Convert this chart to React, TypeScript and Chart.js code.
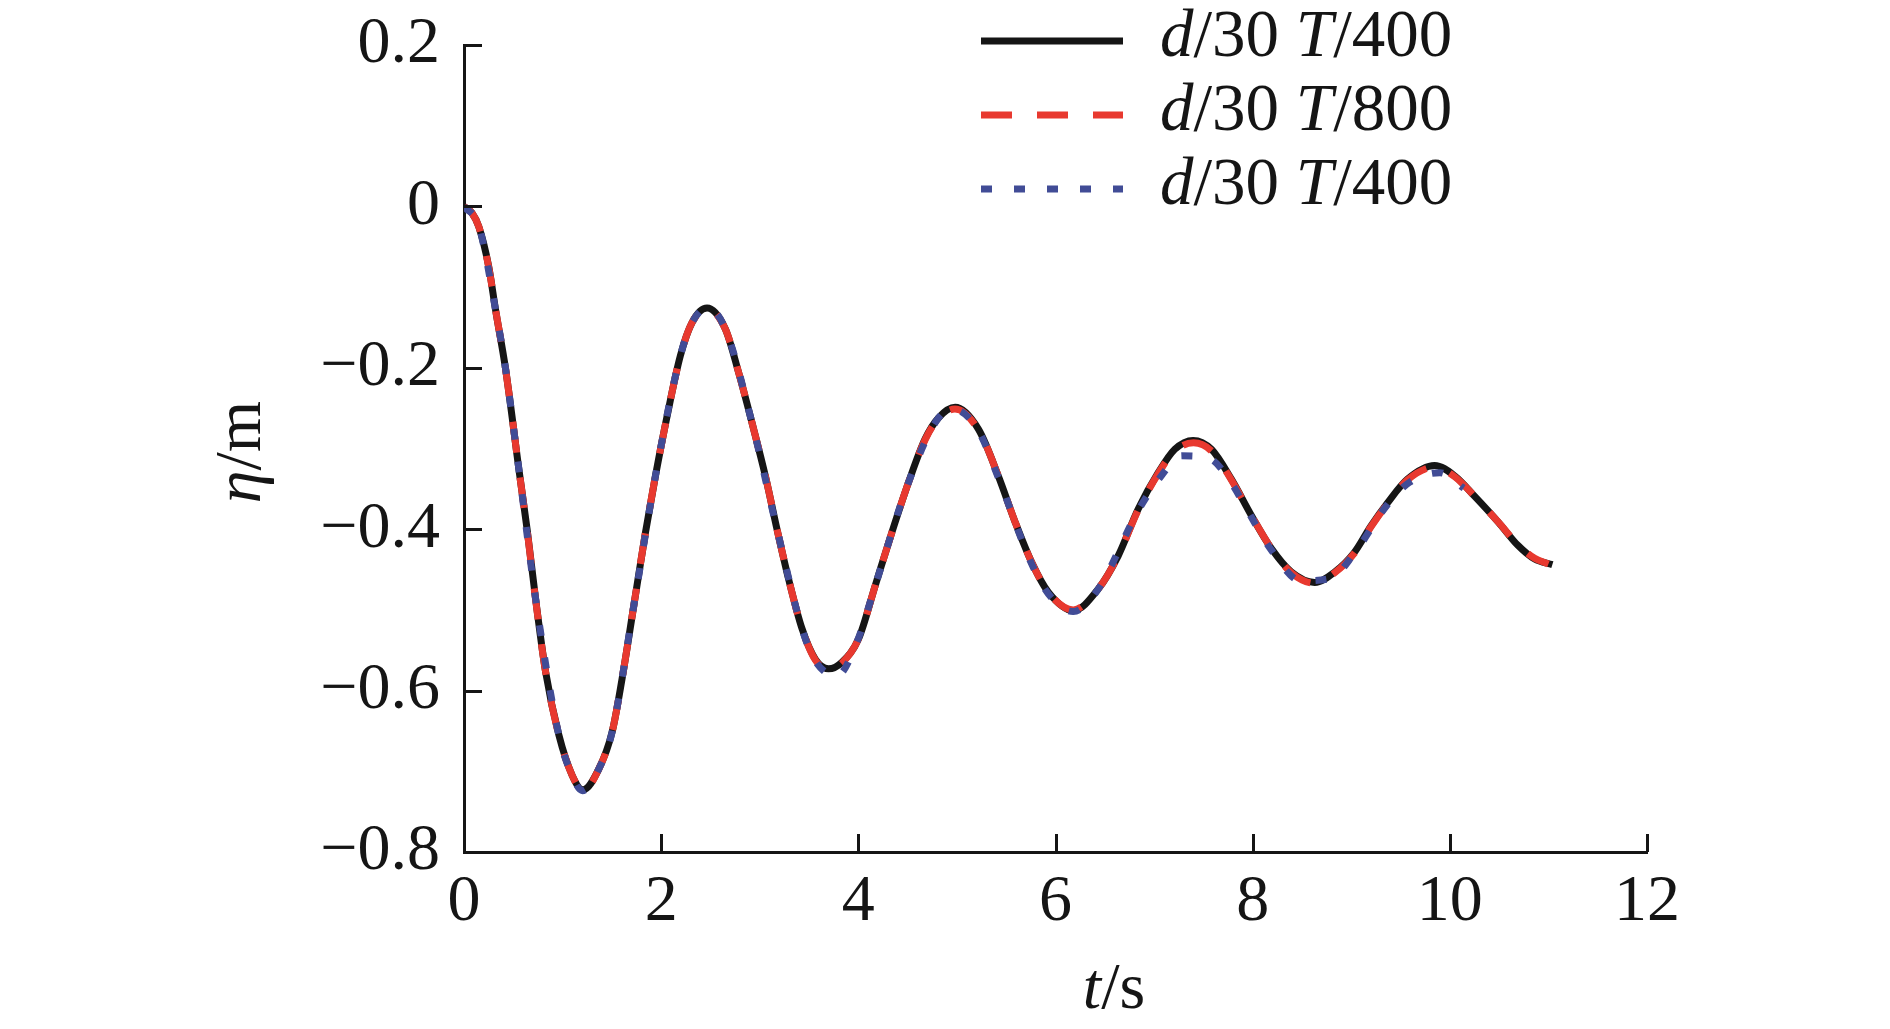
import React, { useEffect, useRef } from 'react';
import { Chart, registerables } from 'chart.js';

Chart.register(...registerables);

// ---------- data ----------
const X_TICKS = [0, 2, 4, 6, 8, 10, 12];
const Y_TICKS = [0.2, 0, -0.2, -0.4, -0.6, -0.8];

const SERIES_NAMES = ['d/30 T/400', 'd/30 T/800', 'd/30 T/400'];
const X_TITLE = 't/s';
const Y_TITLE = 'η/m';

const tBlack = [0, 0.08, 0.15, 0.25, 0.32, 0.42, 0.557, 0.64, 0.726, 0.828, 0.962, 1.097, 1.206, 1.368, 1.503, 1.604, 1.722, 1.841, 1.942, 2.06, 2.195, 2.313, 2.465, 2.651, 2.786, 2.921, 3.057, 3.175, 3.293, 3.428, 3.563, 3.698, 3.833, 4.002, 4.171, 4.34, 4.509, 4.678, 4.813, 4.982, 5.218, 5.42, 5.59, 5.758, 5.927, 6.18, 6.434, 6.636, 6.839, 7.042, 7.21, 7.396, 7.582, 7.784, 7.987, 8.19, 8.392, 8.629, 8.832, 9.03, 9.2, 9.37, 9.57, 9.845, 10.05, 10.25, 10.49, 10.69, 10.86, 11.04];
const etaBlack = [0, -0.008, -0.025, -0.074, -0.128, -0.2, -0.326, -0.4, -0.486, -0.577, -0.655, -0.705, -0.723, -0.697, -0.651, -0.585, -0.495, -0.404, -0.334, -0.26, -0.185, -0.144, -0.126, -0.152, -0.206, -0.268, -0.334, -0.4, -0.462, -0.523, -0.561, -0.573, -0.565, -0.536, -0.47, -0.404, -0.342, -0.288, -0.262, -0.249, -0.276, -0.334, -0.391, -0.441, -0.478, -0.501, -0.474, -0.433, -0.375, -0.33, -0.301, -0.29, -0.301, -0.338, -0.383, -0.424, -0.453, -0.466, -0.453, -0.429, -0.396, -0.367, -0.338, -0.321, -0.334, -0.359, -0.391, -0.42, -0.437, -0.444];

const tRed = [0, 0.08, 0.15, 0.25, 0.32, 0.42, 0.557, 0.64, 0.726, 0.828, 0.962, 1.097, 1.21, 1.368, 1.503, 1.604, 1.722, 1.841, 1.942, 2.06, 2.195, 2.313, 2.47, 2.651, 2.786, 2.921, 3.057, 3.175, 3.293, 3.428, 3.563, 3.70, 3.833, 4.002, 4.171, 4.34, 4.509, 4.678, 4.813, 4.98, 5.218, 5.42, 5.59, 5.758, 5.927, 6.18, 6.434, 6.636, 6.839, 7.042, 7.21, 7.40, 7.582, 7.784, 7.987, 8.19, 8.392, 8.63, 8.832, 9.03, 9.2, 9.37, 9.57, 9.85, 10.05, 10.25, 10.49, 10.69, 10.86, 11.0];
const etaRed = [0, -0.008, -0.025, -0.075, -0.128, -0.2, -0.326, -0.401, -0.487, -0.577, -0.655, -0.705, -0.724, -0.697, -0.651, -0.585, -0.495, -0.404, -0.334, -0.26, -0.185, -0.144, -0.127, -0.152, -0.206, -0.268, -0.334, -0.4, -0.462, -0.523, -0.562, -0.574, -0.566, -0.536, -0.47, -0.404, -0.342, -0.289, -0.263, -0.251, -0.277, -0.334, -0.391, -0.441, -0.478, -0.5, -0.474, -0.433, -0.376, -0.331, -0.303, -0.293, -0.303, -0.339, -0.383, -0.424, -0.454, -0.467, -0.454, -0.43, -0.397, -0.368, -0.339, -0.323, -0.335, -0.359, -0.391, -0.419, -0.436, -0.443];

const tBlue = [0, 0.15, 0.32, 0.42, 0.557, 0.726, 0.962, 1.097, 1.2, 1.368, 1.503, 1.722, 1.942, 2.195, 2.313, 2.47, 2.651, 2.921, 3.175, 3.428, 3.563, 3.78, 3.985, 4.171, 4.509, 4.813, 4.98, 5.218, 5.42, 5.758, 5.927, 6.18, 6.434, 6.839, 7.06, 7.28, 7.57, 7.78, 7.94, 8.19, 8.49, 8.79, 9.03, 9.37, 9.59, 9.9, 10.14];
const etaBlue = [0, -0.024, -0.128, -0.2, -0.326, -0.486, -0.655, -0.705, -0.724, -0.697, -0.651, -0.495, -0.334, -0.185, -0.144, -0.126, -0.152, -0.268, -0.4, -0.523, -0.563, -0.582, -0.54, -0.47, -0.342, -0.262, -0.252, -0.278, -0.336, -0.443, -0.48, -0.502, -0.474, -0.377, -0.336, -0.309, -0.313, -0.342, -0.375, -0.426, -0.464, -0.461, -0.43, -0.369, -0.342, -0.33, -0.349];

// ---------- styles ----------
const FAMILY = "'Liberation Serif', 'Times New Roman', serif";
const INK = '#151515';
const COLORS = ['#151515', '#e8392f', '#414c96'];
const DASHES: number[][] = [[], [31, 25], [11, 22]];
const LINE_W = 7;

const toPts = (xs: number[], ys: number[]) => xs.map((x, i) => ({ x, y: ys[i] }));

function drawRich(ctx: CanvasRenderingContext2D, text: string, x: number, y: number, size: number, align: 'left' | 'center') {
  const segs: { s: string; it: boolean }[] = [];
  const words = text.split(' ');
  words.forEach((word, i) => {
    const k = word.indexOf('/');
    segs.push({ s: word.slice(0, k), it: true });
    segs.push({ s: word.slice(k) + (i < words.length - 1 ? ' ' : ''), it: false });
  });
  const font = (it: boolean) => `${it ? 'italic ' : ''}${size}px ${FAMILY}`;
  let w = 0;
  segs.forEach((sg) => { ctx.font = font(sg.it); w += ctx.measureText(sg.s).width; });
  let cx = align === 'center' ? x - w / 2 : x;
  ctx.textAlign = 'left';
  ctx.textBaseline = 'alphabetic';
  segs.forEach((sg) => {
    ctx.font = font(sg.it);
    ctx.fillText(sg.s, cx, y);
    cx += ctx.measureText(sg.s).width;
  });
}

const decorPlugin = {
  id: 'decor',
  afterDatasetsDraw(chart: any) {
    const ctx: CanvasRenderingContext2D = chart.ctx;
    const xs = chart.scales.x;
    const ys = chart.scales.y;
    const area = chart.chartArea;
    ctx.save();
    // inward tick marks
    ctx.strokeStyle = INK;
    ctx.lineWidth = 3;
    ctx.lineCap = 'butt';
    X_TICKS.forEach((v) => {
      if (v === 0) return;
      const px = Math.round(xs.getPixelForValue(v)) + 0.5;
      ctx.beginPath();
      ctx.moveTo(px, area.bottom);
      ctx.lineTo(px, area.bottom - 18);
      ctx.stroke();
    });
    Y_TICKS.forEach((v) => {
      if (v === -0.8) return;
      const py = Math.round(ys.getPixelForValue(v)) + 0.5;
      ctx.beginPath();
      ctx.moveTo(area.left, py);
      ctx.lineTo(area.left + 18, py);
      ctx.stroke();
    });
    ctx.fillStyle = INK;
    // axis titles
    drawRich(ctx, X_TITLE, 1114, 1008, 66, 'center');
    ctx.save();
    ctx.translate(260, 452);
    ctx.rotate(-Math.PI / 2);
    drawRich(ctx, Y_TITLE, 0, 0, 66, 'center');
    ctx.restore();
    // legend
    SERIES_NAMES.forEach((name, i) => {
      const ly = 41 + i * 74;
      ctx.strokeStyle = COLORS[i];
      ctx.lineWidth = LINE_W;
      ctx.setLineDash(DASHES[i]);
      ctx.beginPath();
      ctx.moveTo(981, ly);
      ctx.lineTo(1123, ly);
      ctx.stroke();
      ctx.setLineDash([]);
      ctx.fillStyle = INK;
      drawRich(ctx, name, 1160, 56 + i * 74, 67, 'left');
    });
    ctx.restore();
  },
};

export default function App() {
  const ref = useRef<HTMLCanvasElement>(null);
  useEffect(() => {
    if (!ref.current) return;
    const datasets = [
      { label: SERIES_NAMES[0], data: toPts(tBlack, etaBlack), order: 2 },
      { label: SERIES_NAMES[1], data: toPts(tRed, etaRed), order: 1 },
      { label: SERIES_NAMES[2], data: toPts(tBlue, etaBlue), order: 0 },
    ].map((d, i) => ({
      ...d,
      borderColor: COLORS[i],
      backgroundColor: COLORS[i],
      borderWidth: LINE_W,
      borderDash: DASHES[i],
      borderCapStyle: 'butt' as const,
      pointRadius: 0,
      fill: false,
      cubicInterpolationMode: 'monotone' as const,
    }));
    const chart = new Chart(ref.current, {
      type: 'line',
      data: { datasets },
      options: {
        animation: false,
        responsive: false,
        devicePixelRatio: 1,
        layout: { padding: { left: 0, top: 45, right: 243, bottom: 0 } },
        plugins: { legend: { display: false }, tooltip: { enabled: false }, title: { display: false } },
        scales: {
          x: {
            type: 'linear',
            min: 0,
            max: 12,
            afterFit: (s: any) => { s.height = 177; },
            afterBuildTicks: (s: any) => { s.ticks = X_TICKS.map((v) => ({ value: v })); },
            grid: { display: false, drawTicks: false },
            border: { display: true, color: INK, width: 3 },
            ticks: { font: { family: FAMILY, size: 66 }, color: INK, padding: 11, maxRotation: 0, autoSkip: false,
              callback: (v: any) => String(v) },
          },
          y: {
            type: 'linear',
            min: -0.8,
            max: 0.2,
            afterFit: (s: any) => { s.width = 464; },
            afterBuildTicks: (s: any) => { s.ticks = Y_TICKS.map((v) => ({ value: v })); },
            grid: { display: false, drawTicks: false },
            border: { display: true, color: INK, width: 3 },
            ticks: { font: { family: FAMILY, size: 66, lineHeight: 0.5 }, color: INK, padding: 24, autoSkip: false,
              callback: (v: any) => {
                const r = Math.round(v * 10) / 10;
                if (r === 0) return '0';
                return r < 0 ? '\u2212' + Math.abs(r).toFixed(1) : r.toFixed(1);
              } },
          },
        },
      },
      plugins: [decorPlugin],
    });
    return () => chart.destroy();
  }, []);
  return (
    <div style={{ position: 'fixed', left: 0, top: 0, width: 1890, height: 1029, background: '#fff' }}>
      <canvas ref={ref} width={1890} height={1029} style={{ display: 'block', width: 1890, height: 1029 }} />
    </div>
  );
}
